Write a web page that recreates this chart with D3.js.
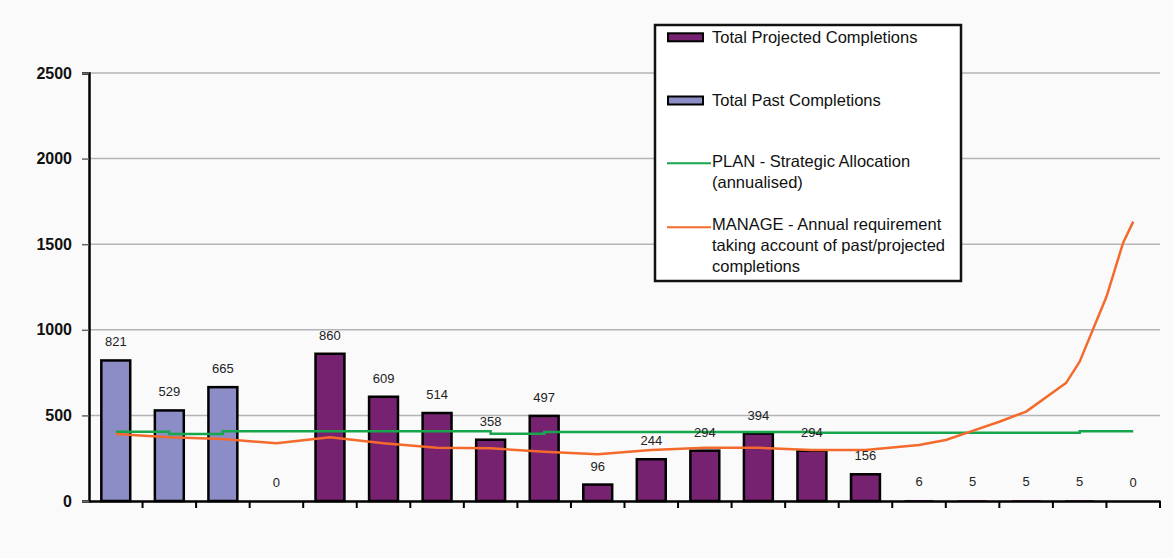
<!DOCTYPE html>
<html>
<head>
<meta charset="utf-8">
<script src="https://cdn.jsdelivr.net/npm/d3@7/dist/d3.min.js"></script>
<style>
  html, body { margin: 0; padding: 0; background: #fafafa; }
  svg { display: block; }
  text { font-family: "Liberation Sans", Arial, sans-serif; }
</style>
</head>
<body>
<svg id="chart" width="1173" height="558"></svg>
<script>
// ---- data ----
const categories = d3.range(20).map(i => "P" + (i + 1));
const pastCompletions      = [821, 529, 665, null, null, null, null, null, null, null, null, null, null, null, null, null, null, null, null, null];
const projectedCompletions = [null, null, null, 0, 860, 609, 514, 358, 497, 96, 244, 294, 394, 294, 156, 6, 5, 5, 5, 0];
const planAllocation = [405, 392, 407, 407, 407, 407, 407, 393, 403, 403, 403, 403, 403, 398, 398, 398, 398, 398, 407, 407];
const manageIndex = [0, 1, 2, 3, 4, 5, 6, 7, 8, 9, 10, 11, 12, 13, 14, 15, 15.5, 16, 16.5, 17, 17.75, 18, 18.5, 18.81, 19];
const manageValues = [391, 372, 362, 337, 372, 337, 311, 308, 288, 273, 298, 311, 311, 298, 298, 327, 356, 410, 463, 522, 691, 814, 1193, 1507, 1632];
const yTicks = [0, 500, 1000, 1500, 2000, 2500];
const legendItems = [
  { type: "rect", key: "projected", lines: ["Total Projected Completions"] },
  { type: "rect", key: "past", lines: ["Total Past Completions"] },
  { type: "line", key: "plan", lines: ["PLAN - Strategic Allocation", "(annualised)"] },
  { type: "line", key: "manage", lines: ["MANAGE - Annual requirement", "taking account of past/projected", "completions"] }
];

// ---- styles ----
const colors = { past: "#8c8cc6", projected: "#762270", plan: "#17a64b", manage: "#f46a2c" };

const svg = d3.select("#chart");
const plotLeft = 89, plotRight = 1160, plotTop = 73, plotBottom = 501;

const x = d3.scaleBand().domain(categories).range([plotLeft, plotRight]).paddingInner(0.46).paddingOuter(0.23);
const xc = d3.scaleLinear().domain([0, 19]).range([x(categories[0]) + x.bandwidth() / 2, x(categories[19]) + x.bandwidth() / 2]);
const y = d3.scaleLinear().domain([0, 2500]).range([plotBottom, plotTop]);

// gridlines
svg.append("g").selectAll("line").data(yTicks.filter(d => d > 0)).join("line")
  .attr("x1", plotLeft).attr("x2", plotRight).attr("y1", d => y(d)).attr("y2", d => y(d))
  .attr("stroke", "#b4b4b8").attr("stroke-width", 1.5);

// y axis
const yAxis = d3.axisLeft(y).tickValues(yTicks).tickSize(7).tickPadding(10).tickFormat(d3.format("d"));
const gy = svg.append("g").attr("transform", `translate(${plotLeft},0)`).call(yAxis);
gy.select(".domain").attr("stroke", "#000").attr("stroke-width", 2.5);
gy.selectAll(".tick line").attr("stroke", "#666").attr("stroke-width", 1.5);
gy.selectAll(".tick text").attr("font-size", 16).attr("font-weight", "bold").attr("fill", "#111")
  .attr("font-family", "Liberation Sans, Arial, sans-serif");

// bars
const barData = categories.map((c, i) => ({ c, past: pastCompletions[i], proj: projectedCompletions[i] }));
svg.append("g").selectAll("rect").data(barData.filter(d => d.past != null)).join("rect")
  .attr("x", d => x(d.c)).attr("width", x.bandwidth())
  .attr("y", d => y(d.past)).attr("height", d => y(0) - y(d.past))
  .attr("fill", colors.past).attr("stroke", "#000").attr("stroke-width", 2.5);
svg.append("g").selectAll("rect").data(barData.filter(d => d.proj != null && d.proj > 0)).join("rect")
  .attr("x", d => x(d.c)).attr("width", x.bandwidth())
  .attr("y", d => y(d.proj)).attr("height", d => y(0) - y(d.proj))
  .attr("fill", colors.projected)
  .attr("stroke", d => d.proj >= 20 ? "#000" : "none").attr("stroke-width", 2.5);

// x axis
const xAxis = d3.axisBottom(x).tickSize(0).tickFormat("");
const gx = svg.append("g").attr("transform", `translate(0,${plotBottom})`).call(xAxis);
gx.select(".domain").attr("stroke", "#000").attr("stroke-width", 2.5);
// boundary ticks
const bounds = categories.map(c => x(c) - x.step() * x.paddingInner() / 2).slice(1).concat([plotRight]);
svg.append("g").selectAll("line").data(bounds).join("line")
  .attr("x1", d => d).attr("x2", d => d).attr("y1", plotBottom).attr("y2", plotBottom + 7)
  .attr("stroke", "#000").attr("stroke-width", 2);

// lines
const planLine = d3.line().x((d, i) => xc(i)).y(d => y(d)).curve(d3.curveStepAfter);
svg.append("path").datum(planAllocation).attr("d", planLine)
  .attr("fill", "none").attr("stroke", colors.plan).attr("stroke-width", 2.5);
const manageLine = d3.line().x(d => xc(d[0])).y(d => y(d[1])).curve(d3.curveLinear);
svg.append("path").datum(manageIndex.map((v, i) => [v, manageValues[i]])).attr("d", manageLine)
  .attr("fill", "none").attr("stroke", colors.manage).attr("stroke-width", 2.5)
  .attr("stroke-linejoin", "round");

// value labels
svg.append("g").selectAll("text").data(barData).join("text")
  .attr("x", d => x(d.c) + x.bandwidth() / 2)
  .attr("y", d => y(d.past != null ? d.past : d.proj) - 14)
  .attr("text-anchor", "middle").attr("font-size", 13).attr("fill", "#222")
  .text(d => d.past != null ? d.past : d.proj);

// legend
const lg = svg.append("g");
lg.append("rect").attr("x", 655).attr("y", 25).attr("width", 306).attr("height", 256)
  .attr("fill", "#fff").attr("stroke", "#111").attr("stroke-width", 2.5);
const rowY = { projected: 37, past: 100, plan: 161, manage: 224 };
const swatchY = { projected: 37.3, past: 100.5, plan: 163.3, manage: 227.3 };
legendItems.forEach(item => {
  const cy = swatchY[item.key];
  if (item.type === "rect") {
    lg.append("rect").attr("x", 668).attr("y", cy - 4).attr("width", 35).attr("height", 8)
      .attr("fill", colors[item.key]).attr("stroke", "#000").attr("stroke-width", 2);
  } else {
    lg.append("line").attr("x1", 667).attr("x2", 711).attr("y1", cy).attr("y2", cy)
      .attr("stroke", colors[item.key]).attr("stroke-width", 2);
  }
  item.lines.forEach((t, j) => {
    lg.append("text").attr("x", 712).attr("y", rowY[item.key] + j * 21).attr("dy", "0.35em")
      .attr("font-size", 16.5).attr("fill", "#111").text(t);
  });
});
</script>
</body>
</html>
